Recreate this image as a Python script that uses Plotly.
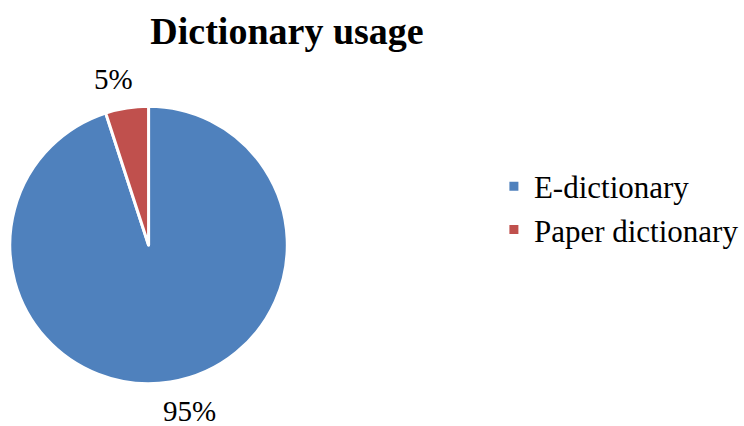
import math
import plotly.graph_objects as go

labels = ["E-dictionary", "Paper dictionary"]
values = [95, 5]
colors = ["#4F81BD", "#C0504D"]
title_text = "Dictionary usage"

W, H = 744, 426
cx, cy, r = 151, 245, 141
SERIF = "Liberation Serif, Times New Roman, serif"

fig = go.Figure(go.Pie(
    labels=labels,
    values=values,
    sort=False,
    direction="clockwise",
    rotation=0,
    marker=dict(colors=colors, line=dict(color="white", width=3)),
    textinfo="none",
    domain=dict(x=[(cx - r) / W, (cx + r) / W], y=[(H - cy - r) / H, (H - cy + r) / H]),
    automargin=False,
    showlegend=True,
    hoverinfo="label+percent",
))

# data labels placed outside each slice at its mid-angle
total = sum(values)
start = 0.0
label_r = 168
for v in values:
    frac = v / total
    mid = (start + frac / 2) * 2 * math.pi
    start += frac
    px = 150 + label_r * math.sin(mid) + 4
    py = 245 - label_r * math.cos(mid)
    px += 12 * (1 if math.sin(mid) > 0 else -1)
    fig.add_annotation(
        x=px / W, y=1 - py / H, xref="paper", yref="paper",
        text=f"{round(frac * 100)}%", showarrow=False,
        xanchor="center", yanchor="middle",
        font=dict(family=SERIF, size=29, color="black"),
    )

fig.update_layout(
    width=W, height=H,
    margin=dict(l=0, r=0, t=0, b=0),
    paper_bgcolor="white",
    plot_bgcolor="white",
    font=dict(family=SERIF, color="black"),
    title=dict(text="<b>" + title_text + "</b>", x=287 / W, xanchor="center",
               y=1 - 31 / H, yanchor="middle",
               font=dict(family=SERIF, size=38, color="black")),
    legend=dict(x=502 / W, xanchor="left", y=1 - 208 / H, yanchor="middle",
                font=dict(family=SERIF, size=31, color="black"),
                bgcolor="rgba(0,0,0,0)", tracegroupgap=0, itemwidth=30),
)

fig.write_html("out.html")
